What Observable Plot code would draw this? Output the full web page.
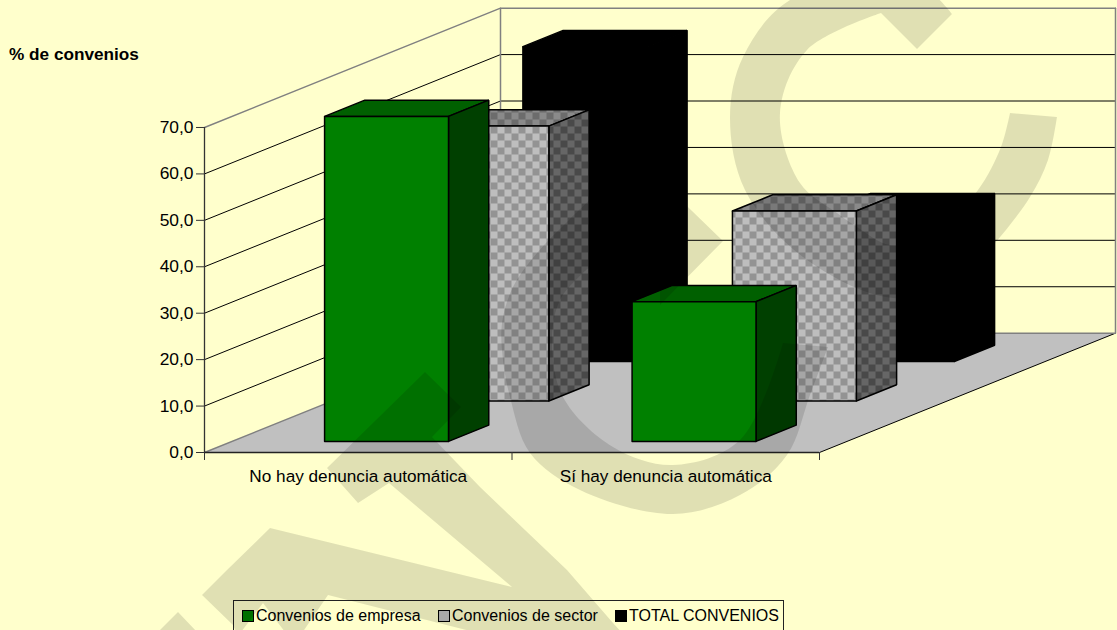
<!DOCTYPE html>
<html><head><meta charset="utf-8">
<script src="https://cdn.jsdelivr.net/npm/d3@7"></script>
<script src="https://cdn.jsdelivr.net/npm/@observablehq/plot@0.6"></script>
<style>
html,body{margin:0;padding:0;background:#ffffcc;width:1117px;height:630px;overflow:hidden}
#wrap{position:relative;width:1117px;height:630px;font-family:"Liberation Sans",Arial,sans-serif;color:#000}
#title{position:absolute;left:9px;top:46px;font-weight:bold;font-size:17.2px;line-height:16px;white-space:nowrap}
#legend{position:absolute;left:233px;top:600px;width:549px;height:29px;border:1px solid #222;box-sizing:content-box;font-size:16px}
#legend span{position:absolute;top:6px;line-height:18px;white-space:nowrap}
#legend i{position:absolute;top:9px;width:10px;height:10px;border:1px solid #000;display:block}
#wm{position:absolute;left:0;top:0;pointer-events:none}
</style></head>
<body><div id="wrap"></div>
<script>
const categories = ["No hay denuncia automática", "Sí hay denuncia automática"];
const empresa = [70.0, 30.1];
const sector = [59.2, 40.9];
const total = [67.8, 32.7];
const yTicks = [0, 10, 20, 30, 40, 50, 60, 70];
const seriesNames = ["Convenios de empresa", "Convenios de sector", "TOTAL CONVENIOS"];

// oblique projection: a point at category position c, value v and depth d (0 front, 1 back)
const depthX = 0.9626, depthY = 25.7;
const P = (c, v, d) => ({x: c + d * depthX, y: v + d * depthY});
const poly = pts => [...pts, pts[0]].map(p => P(...p));
const face = (pts, o) => Plot.line(poly(pts), {x: "x", y: "y", curve: "linear", strokeLinejoin: "miter", ...o});

const barLeft = 0.301, barWidth = 0.403, barDepth = 0.136;
const series = [
  {values: total, d: 0.763, front: "#000", top: "#000", side: "#000"},
  {values: sector, d: 0.432, front: "url(#chkF)", top: "url(#chkT)", side: "url(#chkS)"},
  {values: empresa, d: 0.093, front: "#008000", top: "#006000", side: "#004000"}
];

function patterns() {
  const defs = d3.create("svg:defs");
  const mk = (id, a, b) => {
    const p = defs.append("pattern").attr("id", id).attr("patternUnits", "userSpaceOnUse")
      .attr("width", 14).attr("height", 14);
    p.append("rect").attr("width", 14).attr("height", 14).attr("fill", a);
    p.append("rect").attr("width", 7).attr("height", 7).attr("fill", b);
    p.append("rect").attr("x", 7).attr("y", 7).attr("width", 7).attr("height", 7).attr("fill", b);
  };
  mk("chkF", "#bebebe", "#939393");
  mk("chkT", "#8a8a8a", "#6c6c6c");
  mk("chkS", "#666666", "#494949");
  return defs.node();
}

const gray = "#808080";
const marks = [patterns];
// floor and walls
marks.push(face([[0,0,0],[2,0,0],[2,0,1],[0,0,1]], {fill: "#c0c0c0", stroke: "none"}));
marks.push(Plot.line([P(2,0,0), P(2,0,1)], {x:"x", y:"y", stroke:"#000", strokeWidth:1}));
// left & back wall grid
for (const v of yTicks.slice(1)) {
  const col = v === 70 ? gray : "#000";
  const sw = v === 70 ? 1.5 : 1;
  marks.push(Plot.line([P(0,v,0), P(0,v,1), P(2,v,1)], {x:"x", y:"y", stroke: col, strokeWidth: sw, strokeLinejoin:"miter"}));
}
marks.push(Plot.line([P(0,0,0), P(0,0,1), P(2,0,1), P(2,70,1)], {x:"x", y:"y", stroke: gray, strokeWidth: 1.5, strokeLinejoin:"miter"}));
marks.push(Plot.line([P(0,0,1), P(0,70,1)], {x:"x", y:"y", stroke: gray, strokeWidth: 1.5}));
// bars, back to front
for (const s of series) {
  s.values.forEach((v, i) => {
    const l = i + barLeft, r = l + barWidth, d0 = s.d, d1 = s.d + barDepth;
    const o = {stroke: "#000", strokeWidth: 1.5};
    marks.push(face([[l,v,d0],[r,v,d0],[r,v,d1],[l,v,d1]], {...o, fill: s.top}));
    marks.push(face([[r,0,d0],[r,0,d1],[r,v,d1],[r,v,d0]], {...o, fill: s.side}));
    marks.push(face([[l,0,d0],[r,0,d0],[r,v,d0],[l,v,d0]], {...o, fill: s.front}));
  });
}
// axes
marks.push(Plot.ruleX([0], {y1: 0, y2: 70, stroke: "#333", strokeWidth: 1.3}));
marks.push(Plot.ruleY([0], {x1: 0, x2: 2, stroke: "#222", strokeWidth: 1.3}));
marks.push(Plot.axisY(yTicks, {anchor: "left", x: 0, tickSize: 8, tickPadding: 3, stroke: "#333", strokeWidth: 1, label: null,
  tickFormat: d => d.toFixed(1).replace(".", ","), fontSize: 17.4, fill: "#000"}));
marks.push(Plot.ruleX([0, 1, 2], {y1: 0, y2: -1.72, stroke: "#333", strokeWidth: 1}));
marks.push(Plot.text(categories, {x: (d, i) => i + 0.5, y: 0, dy: 24, text: d => d, fontSize: 17.2, fill: "#000", textAnchor: "middle"}));

const chart = Plot.plot({
  width: 1117, height: 630,
  marginLeft: 204, marginRight: 2, marginTop: 7, marginBottom: 178,
  x: {type: "linear", domain: [0, 2 + depthX], axis: null},
  y: {type: "linear", domain: [0, 95.84], axis: null},
  style: {background: "#ffffcc", fontFamily: '"Liberation Sans", Arial, sans-serif', overflow: "visible"},
  marks
});
const wrap = document.getElementById("wrap");
wrap.appendChild(chart);

const t = document.createElement("div"); t.id = "title"; t.textContent = "% de convenios"; wrap.appendChild(t);
const lg = document.createElement("div"); lg.id = "legend";
const keyColors = ["#008000", "#c0c0c0", "#000000"];
const keyX = [8, 204, 381], textX = [22, 218, 395];
seriesNames.forEach((n, i) => {
  const k = document.createElement("i"); k.style.left = keyX[i] + "px"; k.style.background = keyColors[i]; lg.appendChild(k);
  const s = document.createElement("span"); s.style.left = textX[i] + "px"; s.textContent = n; lg.appendChild(s);
});
wrap.appendChild(lg);

// translucent watermark lying over the whole picture
const curve = d3.line().curve(d3.curveCatmullRom);
const band = (a, b) => curve(a) + "L" + curve(b).slice(1) + "Z";
const markC = band(
  [[952,14],[905,-25],[790,0],[743,57],[730,117],[745,190],[803,257],[893,298],[960,280],[995,243],[1030,197],[1048,160],[1057,117]],
  [[1010,113],[1001,147],[978,190],[935,235],[890,245],[857,227],[837,213],[800,183],[780,113],[807,50],[881,13]]
) .replace(/Z$/, "L917,49Z");
const markU = band(
  [[828,347],[810,395],[787,455],[740,495],[673,514],[580,490],[530,453],[510,397],[503,360],[502,323],[513,287],[537,253],[567,222],[600,190]],
  [[600,258],[583,273],[560,300],[552,340],[563,397],[613,447],[673,465],[740,440],[783,343]]
);
const markV = "M425,372L461,407L432,437L480,487L525,530L567,570L613,623L625,636L490,636L328,595L300,636L288,636L263,603L238,636L233,625L202,595L227,570L270,528L512,587L389,483L358,503L327,468Z M178,612L158,632L197,632Z M723,241L660,180L660,305Z";
const wm = d3.create("svg").attr("id", "wm").attr("width", 1117).attr("height", 630);
wm.append("path").attr("d", markC + markU + markV).attr("fill", "#000").attr("fill-opacity", 0.12);
wrap.appendChild(wm.node());
</script></body></html>
